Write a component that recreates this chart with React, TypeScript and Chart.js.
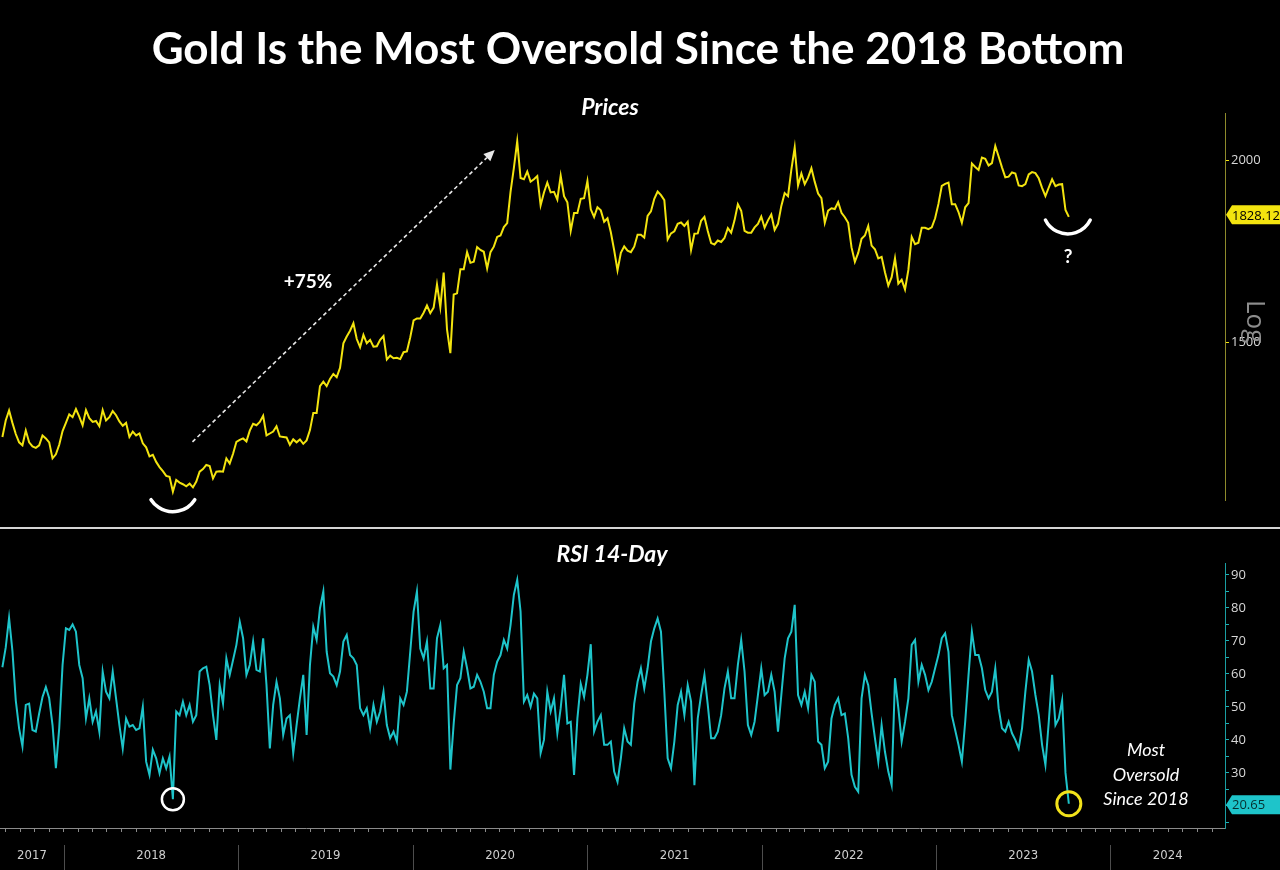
import React, { useEffect, useRef } from "react";
import { Chart, registerables } from "chart.js";

Chart.register(...registerables);

// ---------------- data ----------------
const FIRST_WEEK = "2017-08-25"; // first weekly observation (Fridays)
const X_START = "2017-08-20";
const X_END = "2024-08-28";

// Gold spot, weekly (USD/oz)
const gold2017 = [1291, 1325, 1346, 1320, 1297, 1280, 1274, 1304, 1280, 1272, 1269, 1274, 1294, 1288, 1280, 1248, 1256, 1275, 1303];
const gold2018 = [1320, 1338, 1332, 1349, 1333, 1315, 1347, 1330, 1322, 1324, 1313, 1347, 1325, 1332, 1345, 1336, 1323, 1314, 1320, 1291, 1302, 1294, 1298, 1278, 1270, 1252, 1255, 1241, 1231, 1223, 1214, 1212, 1184, 1206, 1201, 1198, 1194, 1199, 1192, 1203, 1222, 1227, 1235, 1233, 1209, 1222, 1223, 1222, 1248, 1238, 1257, 1281];
const gold2019 = [1285, 1288, 1282, 1304, 1318, 1315, 1322, 1335, 1294, 1298, 1302, 1313, 1292, 1291, 1290, 1275, 1286, 1280, 1286, 1277, 1284, 1305, 1341, 1341, 1399, 1409, 1399, 1415, 1426, 1419, 1440, 1497, 1513, 1527, 1545, 1507, 1488, 1517, 1497, 1505, 1489, 1490, 1505, 1514, 1459, 1468, 1462, 1463, 1460, 1476, 1478, 1511];
const gold2020 = [1552, 1557, 1557, 1571, 1589, 1570, 1584, 1643, 1585, 1674, 1530, 1474, 1617, 1620, 1683, 1683, 1729, 1700, 1703, 1743, 1735, 1730, 1685, 1729, 1744, 1771, 1775, 1799, 1810, 1902, 1975, 2060, 1944, 1940, 1964, 1933, 1940, 1950, 1862, 1900, 1930, 1900, 1902, 1879, 1951, 1889, 1871, 1788, 1839, 1839, 1881, 1883];
const gold2021 = [1935, 1850, 1828, 1856, 1847, 1814, 1824, 1784, 1734, 1680, 1727, 1745, 1733, 1729, 1744, 1777, 1777, 1769, 1831, 1844, 1881, 1903, 1892, 1877, 1764, 1781, 1787, 1808, 1812, 1802, 1814, 1735, 1780, 1781, 1817, 1828, 1788, 1754, 1750, 1761, 1757, 1768, 1796, 1783, 1818, 1865, 1846, 1788, 1783, 1783, 1798, 1808, 1829];
const gold2022 = [1797, 1818, 1835, 1791, 1808, 1860, 1898, 1889, 1970, 2040, 1921, 1958, 1925, 1945, 1974, 1932, 1897, 1883, 1811, 1846, 1853, 1851, 1871, 1840, 1827, 1811, 1742, 1703, 1727, 1766, 1775, 1802, 1747, 1737, 1712, 1716, 1675, 1640, 1662, 1712, 1645, 1655, 1630, 1681, 1771, 1751, 1755, 1797, 1797, 1793, 1798, 1824];
const gold2023 = [1866, 1920, 1926, 1930, 1865, 1865, 1842, 1811, 1856, 1868, 1989, 1978, 1969, 2008, 2004, 1983, 1990, 2045, 2011, 1977, 1946, 1948, 1961, 1958, 1921, 1919, 1925, 1955, 1962, 1959, 1943, 1914, 1889, 1915, 1940, 1919, 1924, 1925, 1848, 1828.12];

// RSI 14-day, sampled weekly on the same dates
const rsi2017 = [62, 68, 77, 67, 52, 43.5, 38, 50.6, 51, 43, 42.5, 48, 53, 56, 52.6, 44.5, 31.4, 43.5, 62.7];
const rsi2018 = [73.8, 73.3, 75, 72.8, 62.7, 58.7, 46.5, 52.6, 45.5, 48.6, 42.5, 60.7, 54.6, 52.6, 60.7, 52.6, 44.5, 37.4, 46.5, 44, 44.5, 43, 43.5, 50, 33.4, 29.4, 37, 34.4, 29.9, 34.4, 31.4, 35, 22, 48.6, 47.5, 51.6, 47.5, 50.6, 45.5, 47.5, 60.7, 61.7, 62.2, 56.6, 47.5, 40, 56.6, 51, 64.7, 59.7, 64.2, 68.8];
const rsi2019 = [75.8, 70.8, 59.7, 62.7, 69.8, 61.2, 60.7, 70.8, 56.6, 37.4, 50.6, 57.6, 52.6, 41.5, 46.5, 47.5, 36, 44.5, 52.6, 59.7, 41.5, 62.7, 74.3, 70.3, 79.9, 85, 66.7, 60.2, 59.2, 56.6, 60.7, 69.8, 71.8, 65.7, 64.7, 62.7, 49.6, 47.5, 49.6, 43.5, 50.6, 45.5, 48.6, 54.6, 44.5, 40.5, 42.5, 39.5, 52.6, 50.6, 54.6, 66.7];
const rsi2020 = [78.9, 85, 67.7, 64.7, 69.8, 55.6, 55.6, 70.8, 74.8, 61.7, 62.7, 31, 45, 56.6, 58.7, 66.7, 61.7, 55.6, 56.1, 59.7, 57.6, 54.6, 49.6, 49.6, 59.7, 63.7, 65.7, 70.3, 67.7, 74.8, 84, 88.5, 78.9, 51.6, 53.6, 50, 54, 52.6, 36, 40, 54.6, 48.6, 52.6, 42, 49.6, 59.7, 45, 45.5, 29.4, 46.5, 57, 53];
const rsi2021 = [59.7, 69, 42.5, 45.5, 47.5, 38.5, 38.5, 39.5, 30.4, 27.3, 34.4, 43.5, 39.5, 38.5, 51, 57.6, 61.7, 55.6, 61.7, 69.8, 73.8, 76.8, 72.8, 54.6, 34.4, 31.4, 39.5, 50.6, 54.6, 47.5, 56.6, 51.6, 26.3, 46.5, 53.6, 59.7, 50.6, 40.5, 40.5, 42.5, 47.5, 55.6, 60.7, 52.6, 52.6, 62.7, 70.3, 60.7, 44.5, 41.5, 45.5, 53.6, 61.7];
const rsi2022 = [53.6, 54.6, 59.7, 54.6, 42.5, 53.6, 64.7, 70.8, 72.8, 80.9, 53.6, 50.6, 54.6, 49.6, 59.7, 57.6, 39.5, 38.5, 31.4, 33.4, 46.5, 50.6, 52.6, 47.5, 48, 40.5, 29.4, 25.8, 24.3, 52.6, 59.7, 56.6, 48, 40.5, 33.4, 44.5, 36.4, 30.4, 26.3, 58.7, 49.6, 39.5, 45.5, 52.6, 68.8, 70.3, 57.6, 62.7, 59.7, 55.1, 57.6, 61.7];
const rsi2023 = [65.7, 70.8, 72.3, 66.7, 47.5, 43, 38.5, 33.4, 45.5, 59.7, 72.8, 65.7, 65.7, 61.7, 55.1, 52.6, 54.6, 61.7, 49.6, 43.5, 42.5, 45.5, 42, 40, 37.4, 43.5, 54.6, 64.2, 60.7, 53.6, 47.5, 38.5, 32.4, 45.5, 59.7, 44.5, 46.5, 52, 30, 20.65];

const yearLabels = [2017, 2018, 2019, 2020, 2021, 2022, 2023, 2024];
const priceTickValues = [1500, 2000];
const rsiTickValues = [15, 20, 25, 30, 35, 40, 45, 50, 55, 60, 65, 70, 75, 80, 85, 90];
const rsiLabelValues = [30, 40, 50, 60, 70, 80, 90];

const PRICE_MIN = 1168.5;
const PRICE_MAX = 2154.3;
const RSI_MIN = 13.3;
const RSI_MAX = 93.6;

const ARROW_FROM = { date: "2018-09-27", price: 1281 };
const ARROW_TO = { date: "2020-06-21", price: 2032 };

// ---------------- helpers ----------------
const DAY_MS = 86400000;
const dayOf = (iso: string) => Date.parse(iso + "T00:00:00Z") / DAY_MS;

const goldWeekly = [...gold2017, ...gold2018, ...gold2019, ...gold2020, ...gold2021, ...gold2022, ...gold2023];
const rsiWeekly = [...rsi2017, ...rsi2018, ...rsi2019, ...rsi2020, ...rsi2021, ...rsi2022, ...rsi2023];
const firstDay = dayOf(FIRST_WEEK);
const weekDays = goldWeekly.map((_, i) => firstDay + 7 * i);
const xMin = dayOf(X_START);
const xMax = dayOf(X_END);

const PRICE_COLOR = "#f3e40f";
const RSI_COLOR = "#1ec4ca";
const AXIS_FONT = "'Open Sans', 'Noto Sans', sans-serif";
const XAXIS_FONT = "'DejaVu Sans Condensed', 'Liberation Sans Narrow', Roboto, sans-serif";
const TEXT_FONT = "Lato, 'Open Sans', sans-serif";

function xAxisTicks() {
  const out: any[] = [];
  for (let y = 2017; y <= 2024; y++) {
    for (let m = 0; m < 12; m++) {
      const d = Date.UTC(y, m, 1) / DAY_MS;
      if (d > xMin && d < xMax) out.push({ value: d });
    }
  }
  yearLabels.forEach((y) => {
    const a = Math.max(dayOf(`${y}-01-01`), xMin);
    const b = Math.min(dayOf(`${y + 1}-01-01`), xMax);
    out.push({ value: (a + b) / 2, yr: String(y) });
  });
  out.sort((p, q) => p.value - q.value);
  return out;
}

function lowIndex() {
  let lo = 0;
  goldWeekly.forEach((v, i) => { if (v < goldWeekly[lo]) lo = i; });
  return lo;
}

function drawTag(ctx: CanvasRenderingContext2D, x0: number, y: number, right: number, text: string, fill: string, ink: string) {
  const h = 19;
  ctx.fillStyle = fill;
  ctx.beginPath();
  ctx.moveTo(x0, y);
  ctx.lineTo(x0 + 6, y - h / 2);
  ctx.lineTo(right, y - h / 2);
  ctx.lineTo(right, y + h / 2);
  ctx.lineTo(x0 + 6, y + h / 2);
  ctx.closePath();
  ctx.fill();
  ctx.fillStyle = ink;
  ctx.font = `13px ${AXIS_FONT}`;
  ctx.textAlign = "left";
  ctx.textBaseline = "middle";
  ctx.fillText(text, x0 + 6, y + 1);
}

const priceMarks = {
  id: "priceMarks",
  afterDraw(chart: any) {
    const { ctx, chartArea } = chart;
    const xs = chart.scales.x;
    const ys = chart.scales.y;
    ctx.save();
    // dashed arrow
    const x1 = xs.getPixelForValue(dayOf(ARROW_FROM.date));
    const y1 = ys.getPixelForValue(ARROW_FROM.price);
    const x2 = xs.getPixelForValue(dayOf(ARROW_TO.date));
    const y2 = ys.getPixelForValue(ARROW_TO.price);
    const ang = Math.atan2(y2 - y1, x2 - x1);
    const head = 11;
    const bx = x2 - head * Math.cos(ang);
    const by = y2 - head * Math.sin(ang);
    ctx.strokeStyle = "#e8e8e8";
    ctx.lineWidth = 1.6;
    ctx.setLineDash([4, 3]);
    ctx.beginPath();
    ctx.moveTo(x1, y1);
    ctx.lineTo(bx, by);
    ctx.stroke();
    ctx.setLineDash([]);
    ctx.fillStyle = "#e8e8e8";
    ctx.beginPath();
    ctx.moveTo(x2, y2);
    ctx.lineTo(bx + 5 * Math.sin(ang), by - 5 * Math.cos(ang));
    ctx.lineTo(bx - 5 * Math.sin(ang), by + 5 * Math.cos(ang));
    ctx.closePath();
    ctx.fill();

    // smile arcs under the 2018 low and the last point
    const lo = lowIndex();
    const lastIdx = goldWeekly.length - 1;
    ctx.strokeStyle = "#ffffff";
    ctx.lineWidth = 3.5;
    ctx.lineCap = "round";
    const lx = xs.getPixelForValue(weekDays[lo]);
    const ly = ys.getPixelForValue(goldWeekly[lo]);
    ctx.beginPath();
    ctx.arc(lx, ly - 6, 26, 0.57, Math.PI - 0.57);
    ctx.stroke();
    const ex = xs.getPixelForValue(weekDays[lastIdx]);
    const ey = ys.getPixelForValue(goldWeekly[lastIdx]);
    ctx.beginPath();
    ctx.arc(ex - 1, ey - 8, 25, 0.46, Math.PI - 0.46);
    ctx.stroke();

    // last value tag
    drawTag(ctx, chartArea.right + 1, ey - 2, chart.width, goldWeekly[lastIdx].toFixed(2), PRICE_COLOR, "#000");
    ctx.restore();
  },
};

const rsiMarks = {
  id: "rsiMarks",
  afterDraw(chart: any) {
    const { ctx, chartArea } = chart;
    const xs = chart.scales.x;
    const ys = chart.scales.y;
    ctx.save();
    // year separators below the axis
    ctx.strokeStyle = "#4d4d4d";
    ctx.lineWidth = 1;
    for (let y = 2018; y <= 2024; y++) {
      const px = Math.round(xs.getPixelForValue(dayOf(`${y}-01-01`))) + 0.5;
      ctx.beginPath();
      ctx.moveTo(px, chartArea.bottom + 17);
      ctx.lineTo(px, chart.height);
      ctx.stroke();
    }
    // circles
    const lo = lowIndex();
    const lastIdx = rsiWeekly.length - 1;
    ctx.strokeStyle = "#ffffff";
    ctx.lineWidth = 2.5;
    ctx.beginPath();
    ctx.arc(xs.getPixelForValue(weekDays[lo]), ys.getPixelForValue(rsiWeekly[lo]), 11, 0, Math.PI * 2);
    ctx.stroke();
    const ex = xs.getPixelForValue(weekDays[lastIdx]);
    const ey = ys.getPixelForValue(rsiWeekly[lastIdx]);
    ctx.strokeStyle = "#f2e21a";
    ctx.lineWidth = 3;
    ctx.beginPath();
    ctx.arc(ex, ey, 12, 0, Math.PI * 2);
    ctx.stroke();
    drawTag(ctx, chartArea.right + 1, ey + 1, chart.width, rsiWeekly[lastIdx].toFixed(2), RSI_COLOR, "#06302f");
    ctx.restore();
  },
};

export default function App() {
  const topRef = useRef<HTMLCanvasElement>(null);
  const botRef = useRef<HTMLCanvasElement>(null);

  useEffect(() => {
    document.body.style.margin = "0";
    document.body.style.background = "#000";
    document.documentElement.style.background = "#000";

    const priceData = goldWeekly.map((v, i) => ({ x: weekDays[i], y: v }));
    const rsiData = rsiWeekly.map((v, i) => ({ x: weekDays[i], y: v }));

    const top = new Chart(topRef.current as HTMLCanvasElement, {
      type: "line",
      data: {
        datasets: [
          { data: priceData, borderColor: PRICE_COLOR, borderWidth: 2, pointRadius: 0, tension: 0 },
        ],
      },
      options: {
        responsive: false,
        animation: false,
        events: [],
        layout: { padding: { top: 113, bottom: 28, left: 0, right: 0 } },
        plugins: { legend: { display: false }, tooltip: { enabled: false } },
        scales: {
          x: { type: "linear", min: xMin, max: xMax, display: false },
          y: {
            type: "logarithmic",
            position: "right",
            min: PRICE_MIN,
            max: PRICE_MAX,
            afterFit: (s: any) => { s.width = 55; },
            afterBuildTicks: (s: any) => { s.ticks = priceTickValues.map((v) => ({ value: v })); },
            grid: { drawOnChartArea: false, drawTicks: true, tickLength: 4, tickColor: PRICE_COLOR },
            border: { color: "#8e8a2b", width: 1 },
            ticks: {
              autoSkip: false,
              color: "#d8d8d8",
              font: { family: AXIS_FONT, size: 13 },
              padding: 2,
              callback: (v: any) => String(v),
            },
          },
        },
      } as any,
      plugins: [priceMarks],
    });

    const bot = new Chart(botRef.current as HTMLCanvasElement, {
      type: "line",
      data: {
        datasets: [
          { data: rsiData, borderColor: RSI_COLOR, borderWidth: 2, pointRadius: 0, tension: 0 },
        ],
      },
      options: {
        responsive: false,
        animation: false,
        events: [],
        layout: { padding: { top: 35, bottom: 0, left: 0, right: 0 } },
        plugins: { legend: { display: false }, tooltip: { enabled: false } },
        scales: {
          x: {
            type: "linear",
            min: xMin,
            max: xMax,
            afterFit: (s: any) => { s.height = 42; s.paddingLeft = 0; s.paddingRight = 0; },
            afterBuildTicks: (s: any) => { s.ticks = xAxisTicks(); },
            grid: {
              drawOnChartArea: false,
              drawTicks: true,
              tickLength: 4,
              tickColor: (c: any) => (c.tick && c.tick.yr ? "rgba(0,0,0,0)" : "#8a8a8a"),
            },
            border: { color: "#8a8a8a", width: 1 },
            ticks: {
              autoSkip: false,
              maxRotation: 0,
              minRotation: 0,
              padding: 16,
              color: "#cfcfcf",
              font: { family: XAXIS_FONT, size: 13 },
              callback: (_v: any, i: number, ticks: any[]) => (ticks[i] && ticks[i].yr ? ticks[i].yr : ""),
            },
          },
          y: {
            type: "linear",
            position: "right",
            min: RSI_MIN,
            max: RSI_MAX,
            afterFit: (s: any) => { s.width = 55; },
            afterBuildTicks: (s: any) => { s.ticks = rsiTickValues.map((v) => ({ value: v })); },
            grid: { drawOnChartArea: false, drawTicks: true, tickLength: 4, tickColor: "#1fb3b7" },
            border: { color: "#1a9ea2", width: 1 },
            ticks: {
              autoSkip: false,
              color: "#d8d8d8",
              font: { family: AXIS_FONT, size: 13 },
              padding: 2,
              callback: (v: any) => (rsiLabelValues.includes(v) ? String(v) : ""),
            },
          },
        },
      } as any,
      plugins: [rsiMarks],
    });

    return () => {
      top.destroy();
      bot.destroy();
    };
  }, []);

  const abs = (s: any) => ({ position: "absolute", whiteSpace: "nowrap", pointerEvents: "none", ...s } as any);

  return (
    <div style={{ position: "relative", width: 1280, height: 870, background: "#000", overflow: "hidden" }}>
      <canvas ref={topRef} width={1280} height={528} style={abs({ left: 0, top: 0, width: 1280, height: 528 })} />
      <canvas ref={botRef} width={1280} height={342} style={abs({ left: 0, top: 528, width: 1280, height: 342 })} />
      <div style={abs({ left: 0, top: 527, width: 1280, height: 2, background: "#d4d4d4" })} />
      <div style={abs({ left: 0, top: 22, width: 1276, textAlign: "center", color: "#fff", font: `700 44px ${TEXT_FONT}`, lineHeight: "50px" })}>
        Gold Is the Most Oversold Since the 2018 Bottom
      </div>
      <div style={abs({ left: 510, top: 94, width: 200, textAlign: "center", color: "#fff", font: `italic 700 23px ${TEXT_FONT}`, lineHeight: "24px" })}>
        Prices
      </div>
      <div style={abs({ left: 512, top: 541, width: 200, textAlign: "center", color: "#fff", font: `italic 700 23px ${TEXT_FONT}`, lineHeight: "24px" })}>
        RSI 14-Day
      </div>
      <div style={abs({ left: 258, top: 270, width: 100, textAlign: "center", color: "#fff", font: `700 19px ${TEXT_FONT}`, lineHeight: "22px" })}>
        +75%
      </div>
      <div style={abs({ left: 1048, top: 245, width: 40, textAlign: "center", color: "#fff", font: `700 19px ${TEXT_FONT}`, lineHeight: "22px" })}>
        ?
      </div>
      <div style={abs({ left: 1066, top: 737, width: 160, textAlign: "center", color: "#fff", font: `italic 400 18px ${TEXT_FONT}`, lineHeight: "24.5px" })}>
        Most
        <br />
        Oversold
        <br />
        Since 2018
      </div>
      <div style={abs({ left: 1237, top: 305, width: 40, height: 30, textAlign: "center", color: "#8d8d8d", font: `400 26px ${AXIS_FONT}`, lineHeight: "30px", transform: "rotate(90deg)" })}>
        Log
      </div>
    </div>
  );
}
